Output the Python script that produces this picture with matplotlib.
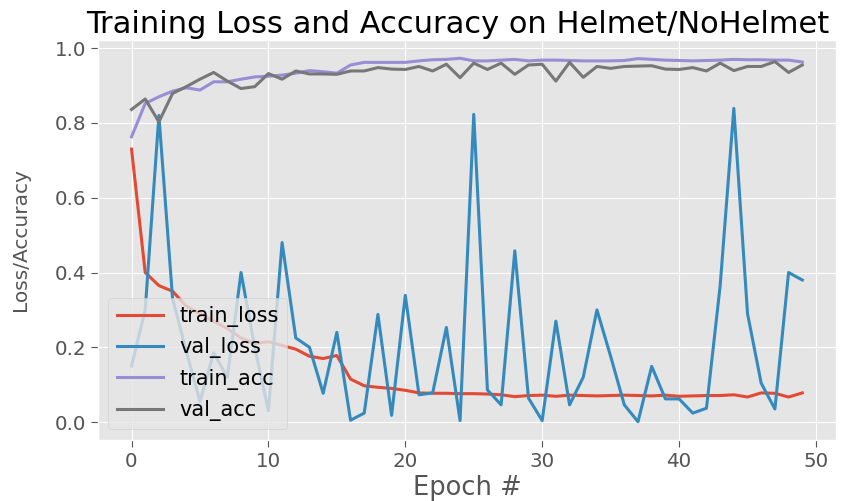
import matplotlib
matplotlib.use("Agg")
import matplotlib.pyplot as plt
import numpy as np

plt.style.use("ggplot")

epochs = list(range(50))
train_loss = [0.73, 0.40, 0.365, 0.35, 0.31, 0.29, 0.27, 0.25, 0.225, 0.21,
              0.215, 0.205, 0.195, 0.176, 0.17, 0.178, 0.115, 0.097, 0.093, 0.09,
              0.085, 0.078, 0.077, 0.077, 0.076, 0.076, 0.075, 0.073, 0.068, 0.071,
              0.072, 0.069, 0.072, 0.071, 0.070, 0.071, 0.072, 0.071, 0.070, 0.072,
              0.069, 0.070, 0.071, 0.071, 0.073, 0.067, 0.078, 0.077, 0.067, 0.078]
val_loss = [0.15, 0.30, 0.82, 0.33, 0.19, 0.055, 0.185, 0.12, 0.40, 0.20,
            0.03, 0.48, 0.225, 0.20, 0.077, 0.24, 0.005, 0.024, 0.288, 0.018,
            0.339, 0.073, 0.078, 0.253, 0.004, 0.823, 0.086, 0.046, 0.458, 0.064,
            0.004, 0.27, 0.046, 0.12, 0.30, 0.176, 0.046, 0.001, 0.149, 0.062,
            0.062, 0.024, 0.037, 0.364, 0.839, 0.29, 0.104, 0.035, 0.40, 0.38]
train_acc = [0.763, 0.852, 0.87, 0.885, 0.894, 0.888, 0.91, 0.91, 0.917, 0.923,
             0.925, 0.928, 0.933, 0.94, 0.937, 0.933, 0.955, 0.962, 0.962, 0.962,
             0.962, 0.966, 0.969, 0.97, 0.973, 0.966, 0.966, 0.968, 0.97, 0.966,
             0.968, 0.968, 0.967, 0.966, 0.966, 0.966, 0.967, 0.972, 0.97, 0.968,
             0.967, 0.966, 0.967, 0.968, 0.97, 0.969, 0.969, 0.968, 0.968, 0.963]
val_acc = [0.836, 0.864, 0.803, 0.879, 0.897, 0.917, 0.935, 0.912, 0.892, 0.897,
           0.932, 0.917, 0.939, 0.931, 0.931, 0.93, 0.939, 0.939, 0.948, 0.944,
           0.943, 0.951, 0.939, 0.957, 0.921, 0.96, 0.943, 0.96, 0.93, 0.955,
           0.957, 0.912, 0.962, 0.922, 0.951, 0.946, 0.951, 0.952, 0.953, 0.944,
           0.943, 0.948, 0.939, 0.96, 0.94, 0.951, 0.951, 0.964, 0.935, 0.955]

fig = plt.figure(figsize=(8.52, 5.01), dpi=100)
ax = fig.add_axes([0.115, 0.122, 0.866, 0.798])
lw = 2.2
ax.plot(epochs, train_loss, label="train_loss", lw=lw)
ax.plot(epochs, val_loss, label="val_loss", lw=lw)
ax.plot(epochs, train_acc, label="train_acc", lw=lw)
ax.plot(epochs, val_acc, label="val_acc", lw=lw)
ax.set_title("Training Loss and Accuracy on Helmet/NoHelmet", fontsize=22, pad=5, x=0.487)
ax.set_xlabel("Epoch #", fontsize=18.5, labelpad=3)
ax.set_ylabel("Loss/Accuracy", fontsize=14.5, labelpad=18)
ax.tick_params(labelsize=14.3, length=5)
ax.legend(loc="lower left", fontsize=15, handlelength=2.2)
fig.savefig("out.png", dpi=100)
